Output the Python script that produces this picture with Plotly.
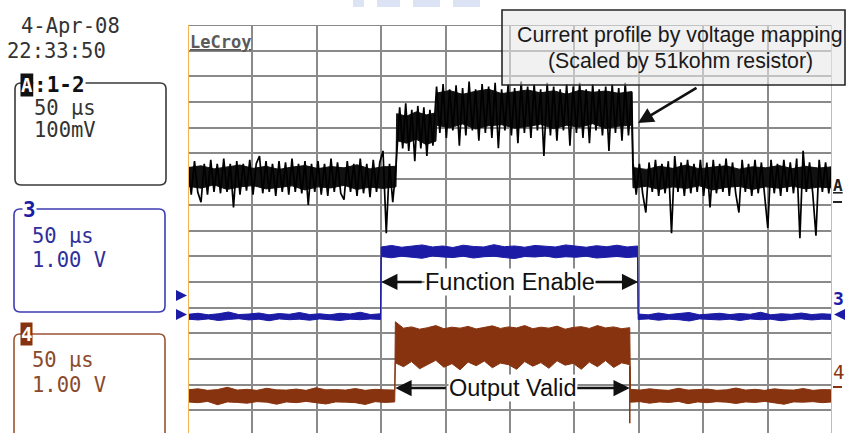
import numpy as np
import plotly.graph_objects as go

W, H = 846, 433

# ---------------- data (screen divisions; time in microseconds, 50 us/div) ----------------
# Channel A (1-2) current profile, black: sampled trace
a_segments = [(0, 161.5), (162, 192.5), (193, 344.5), (345.5, 500)]
a_low_before = [10.6, 9.4, 10.7, 9.5, 9.1, 10.6, 9.4, 10.75, 9.5, 10.6,
                9.45, 10.8, 9.5, 10.6, 8.9, 10.7, 9.4, 10.6, 9.55, 10.75,
                9.4, 10.6, 10.9, 9.45, 10.7, 9.5, 10.6, 9.35, 10.7, 9.5,
                10.65, 9.4, 10.8, 9.5, 10.6, 9.45, 10.7, 9.0, 10.6, 9.5,
                10.7, 9.4, 10.6, 9.35, 10.8, 9.5, 10.65, 9.45, 9.2, 10.7,
                9.5, 10.6, 9.35, 10.8, 9.45, 10.6, 9.3, 10.75, 9.5, 10.65,
                11.1, 7.9, 10.6, 9.1, 10.5]
a_step1 = [11.0, 12.8, 11.2, 12.95, 11.1, 12.7, 10.7, 12.85, 11.2, 12.8, 10.9, 12.7, 11.3, 12.9]
a_step2 = [13.6, 11.8, 13.7, 11.6, 13.5, 11.9, 13.65, 11.3, 13.55, 11.7,
           13.8, 11.9, 13.5, 11.5, 13.7, 11.8, 13.6, 11.6, 13.75, 11.2,
           13.5, 11.9, 13.7, 11.7, 13.55, 11.4, 13.8, 11.8, 13.6, 11.6,
           13.7, 11.9, 13.5, 10.9, 13.75, 11.7, 13.6, 11.5, 13.5, 11.9,
           13.7, 11.3, 13.6, 11.8, 13.75, 11.6, 13.5, 11.4, 13.7, 11.9,
           13.5, 11.7, 13.6, 11.1, 13.7, 11.8, 13.55, 11.5, 13.75, 11.7, 13.4]
a_low_after = [10.65, 9.4, 10.6, 9.45, 8.7, 10.65, 9.5, 10.75, 9.35, 10.6,
               9.45, 10.7, 7.9, 10.9, 9.5, 10.65, 9.35, 10.75, 9.45, 10.6,
               9.5, 10.75, 9.35, 10.65, 8.9, 10.75, 9.45, 10.6, 9.5, 10.8,
               9.35, 10.65, 9.45, 8.7, 10.75, 9.5, 10.6, 9.35, 10.75, 9.45,
               10.65, 9.5, 8.1, 10.75, 9.45, 10.6, 9.35, 10.75, 9.5, 10.65,
               9.45, 10.8, 7.7, 11.1, 9.5, 10.65, 9.45, 7.8, 10.75, 9.5,
               10.65, 9.45, 10.6]
# Channel A dense body (persistence envelope): top / bottom edges
a_body_top = [
    [10.45, 10.52, 10.4, 10.48, 10.55, 10.42, 10.5, 10.38, 10.47, 10.53, 10.41, 10.49, 10.44, 10.56, 10.4, 10.48, 10.5],
    [12.55, 12.45, 12.62, 12.5, 12.58],
    [13.35, 13.45, 13.3, 13.42, 13.5, 13.33, 13.4, 13.47, 13.36, 13.44, 13.3, 13.46, 13.38, 13.43, 13.34, 13.41],
    [10.45, 10.38, 10.5, 10.42, 10.55, 10.4, 10.47, 10.52, 10.39, 10.48, 10.44, 10.53, 10.41, 10.5, 10.43, 10.48],
]
a_body_bot = [
    [9.72, 9.65, 9.78, 9.6, 9.7, 9.75, 9.62, 9.68, 9.74, 9.58, 9.7, 9.66, 9.76, 9.6, 9.69, 9.64, 9.7],
    [11.5, 11.4, 11.55, 11.35, 11.48],
    [12.1, 12.0, 12.15, 11.95, 12.08, 12.12, 11.98, 12.05, 12.14, 11.96, 12.1, 12.02, 12.16, 11.97, 12.06, 12.1],
    [9.66, 9.72, 9.6, 9.7, 9.64, 9.74, 9.58, 9.68, 9.72, 9.6, 9.7, 9.65, 9.73, 9.62, 9.69, 9.66],
]

# Channel 3 Function Enable, blue (band: top / bottom edges)
c3_segments = [(0, 149.5), (150, 349), (349.5, 500)]
c3_top = [
    [4.74, 4.78, 4.72, 4.76, 4.83, 4.73, 4.75, 4.79, 4.72, 4.77, 4.74, 4.81, 4.73, 4.76, 4.72, 4.78, 4.75, 4.82, 4.73, 4.76],
    [7.36, 7.42, 7.35, 7.39, 7.44, 7.36, 7.40, 7.34, 7.43, 7.38, 7.36, 7.45, 7.37, 7.40, 7.35, 7.42, 7.38, 7.36, 7.44, 7.39,
     7.35, 7.41, 7.37, 7.43, 7.36, 7.40],
    [4.75, 4.72, 4.79, 4.73, 4.76, 4.81, 4.72, 4.75, 4.78, 4.73, 4.77, 4.74, 4.82, 4.72, 4.76, 4.74, 4.79, 4.73, 4.76, 4.74],
]
c3_bot = [
    [4.55, 4.52, 4.56, 4.50, 4.54, 4.57, 4.52, 4.55, 4.49, 4.56, 4.53, 4.55, 4.51, 4.56, 4.54, 4.50, 4.55, 4.53, 4.56, 4.54],
    [6.99, 6.94, 7.00, 6.96, 6.92, 7.01, 6.97, 6.95, 7.00, 6.93, 6.98, 7.00, 6.95, 6.91, 6.99, 6.97, 7.01, 6.94, 6.98, 6.96,
     7.00, 6.93, 6.97, 6.99, 6.95, 6.98],
    [4.54, 4.56, 4.51, 4.55, 4.53, 4.48, 4.56, 4.54, 4.52, 4.55, 4.50, 4.56, 4.53, 4.55, 4.49, 4.54, 4.56, 4.52, 4.55, 4.54],
]

# Channel 4 Output Valid, brown (band: top / bottom edges)
c4_segments = [(0, 160.5), (161, 343), (343.5, 500)]
c4_top = [
    [1.80, 1.84, 1.78, 1.81, 1.90, 1.79, 1.82, 1.78, 1.86, 1.80, 1.79, 1.83, 1.78, 1.88, 1.80, 1.81, 1.79, 1.85, 1.78, 1.82, 1.80, 1.79],
    [4.45, 4.20, 4.25, 4.16, 4.22, 4.30, 4.18, 4.24, 4.20, 4.27, 4.17, 4.23, 4.29, 4.19, 4.25, 4.21, 4.30, 4.18, 4.24, 4.20,
     4.28, 4.16, 4.23, 4.26, 4.19, 4.30, 4.21, 4.25, 4.18, 4.22],
    [1.82, 1.79, 1.84, 1.80, 1.78, 1.86, 1.79, 1.81, 1.83, 1.78, 1.80, 1.87, 1.79, 1.82, 1.78, 1.84, 1.80, 1.79, 1.85, 1.78, 1.81, 1.80],
]
c4_bot = [
    [1.33, 1.30, 1.35, 1.22, 1.33, 1.31, 1.28, 1.34, 1.32, 1.24, 1.33, 1.30, 1.35, 1.31, 1.25, 1.33, 1.32, 1.30, 1.23, 1.34, 1.31, 1.33],
    [2.85, 2.70, 2.90, 2.62, 2.80, 2.95, 2.68, 2.82, 2.58, 2.88, 2.74, 2.92, 2.66, 2.84, 2.78, 2.60, 2.90, 2.72, 2.86, 2.64,
     2.93, 2.76, 2.83, 2.60, 2.88, 2.70, 2.94, 2.67, 2.85, 2.78],
    [1.32, 1.34, 1.28, 1.33, 1.31, 1.35, 1.26, 1.33, 1.30, 1.34, 1.32, 1.27, 1.33, 1.31, 1.35, 1.30, 1.24, 1.33, 1.32, 1.34, 1.30, 1.33],
]
c4_edge_t = [343, 343]
c4_edge_v = [2.7, 0.5]

# annotation positions (time us, divisions)
enable_edges = [150, 349.5]
valid_edges = [161, 343]
enable_level = 6.0
valid_level = 1.87

BLACK = "#000000"
BLUE = "#1b1ba6"
BROWN = "#87330f"
GRID = "#8a8a8a"
ORANGE = "#f3b453"


def build(segs, vals_list):
    t, y = [], []
    for (s, e), v in zip(segs, vals_list):
        t += list(np.linspace(s, e, len(v)))
        y += list(v)
    return t, y


def band(segs, tops, bots):
    tt, yt = build(segs, tops)
    tb, yb = build(segs, bots)
    return tt + tb[::-1] + [tt[0]], yt + yb[::-1] + [yt[0]]


fig = go.Figure()

ta, ya = build(a_segments, [a_low_before, a_step1, a_step2, a_low_after])
tab, yab = band(a_segments, a_body_top, a_body_bot)
t3, y3 = band(c3_segments, c3_top, c3_bot)
t4, y4 = band(c4_segments, c4_top, c4_bot)

fig.add_trace(go.Scatter(x=t3, y=y3, mode="lines", fill="toself", fillcolor=BLUE,
                         line=dict(color=BLUE, width=1), hoverinfo="skip"))
fig.add_trace(go.Scatter(x=t4, y=y4, mode="lines", fill="toself", fillcolor=BROWN,
                         line=dict(color=BROWN, width=1), hoverinfo="skip"))
fig.add_trace(go.Scatter(x=c4_edge_t, y=c4_edge_v, mode="lines",
                         line=dict(color=BROWN, width=1.5), hoverinfo="skip"))
fig.add_trace(go.Scatter(x=tab, y=yab, mode="lines", fill="toself", fillcolor="#111111",
                         line=dict(color="#111111", width=1), hoverinfo="skip"))
fig.add_trace(go.Scatter(x=ta, y=ya, mode="lines", line=dict(color=BLACK, width=1.7), hoverinfo="skip"))


def X(p):
    return p / W


def Y(p):
    return 1 - p / H


def rrect(x0, y0, x1, y1, r):
    return (f"M{X(x0 + r)},{Y(y0)} L{X(x1 - r)},{Y(y0)} Q{X(x1)},{Y(y0)} {X(x1)},{Y(y0 + r)} "
            f"L{X(x1)},{Y(y1 - r)} Q{X(x1)},{Y(y1)} {X(x1 - r)},{Y(y1)} L{X(x0 + r)},{Y(y1)} "
            f"Q{X(x0)},{Y(y1)} {X(x0)},{Y(y1 - r)} L{X(x0)},{Y(y0 + r)} Q{X(x0)},{Y(y0)} {X(x0 + r)},{Y(y0)} Z")


def tri(pts):
    return "M" + " L".join(f"{X(a)},{Y(b)}" for a, b in pts) + " Z"


shapes = []
# left panel boxes
shapes.append(dict(type="path", xref="paper", yref="paper", path=rrect(15, 83, 166, 185, 6),
                   line=dict(color="#3a3a3a", width=1.6)))
shapes.append(dict(type="path", xref="paper", yref="paper", path=rrect(14, 209, 165, 312, 6),
                   line=dict(color="#3c3cb4", width=1.6)))
shapes.append(dict(type="path", xref="paper", yref="paper", path=rrect(14, 334, 165, 450, 6),
                   line=dict(color="#9a5434", width=1.6)))
# plot frame: orange side borders and top line
for xx in (0, 500):
    shapes.append(dict(type="line", xref="x", yref="paper", x0=xx, x1=xx, y0=0, y1=Y(25),
                       line=dict(color=ORANGE, width=2), layer="above"))
shapes.append(dict(type="line", xref="x", yref="y", x0=0, x1=500, y0=16, y1=16,
                   line=dict(color=GRID, width=2), layer="below"))
# channel markers
shapes.append(dict(type="path", xref="paper", yref="paper", path=tri([(176, 290), (187, 295.5), (176, 301)]),
                   fillcolor=BLUE, line=dict(width=0)))
shapes.append(dict(type="path", xref="paper", yref="paper", path=tri([(176, 309), (187, 314.5), (176, 320)]),
                   fillcolor=BLUE, line=dict(width=0)))
shapes.append(dict(type="path", xref="paper", yref="paper", path=tri([(845, 309), (834, 314.5), (845, 320)]),
                   fillcolor=BLUE, line=dict(width=0)))
shapes.append(dict(type="line", xref="paper", yref="paper", x0=X(833), x1=X(842), y0=Y(202), y1=Y(202),
                   line=dict(color="#222222", width=2)))
shapes.append(dict(type="line", xref="paper", yref="paper", x0=X(833), x1=X(842), y0=Y(387), y1=Y(387),
                   line=dict(color=BROWN, width=2)))
# callout box
shapes.append(dict(type="rect", xref="paper", yref="paper", x0=X(502), x1=X(845), y0=Y(85), y1=Y(10),
                   fillcolor="rgba(232,232,232,0.6)", line=dict(color="#262626", width=1.6), layer="above"))
# faint watermark blobs at top
for a, b in [(353, 364), (377, 400), (413, 440), (453, 480)]:
    shapes.append(dict(type="rect", xref="paper", yref="paper", x0=X(a), x1=X(b), y0=Y(7), y1=Y(0),
                       fillcolor="#dce3f5", line=dict(width=0)))

MONO = "DejaVu Sans Mono"
SANS = "Liberation Sans, Arial"
ann = []


def txt(s, x, y, size, color, family=MONO, xanchor="left", bg=None, bold=False):
    d = dict(text=(f"<b>{s}</b>" if bold else s), x=X(x), y=Y(y), xref="paper", yref="paper",
             xanchor=xanchor, yanchor="middle", showarrow=False,
             font=dict(family=family, size=size, color=color), borderpad=0)
    if bg:
        d["bgcolor"] = bg
    ann.append(d)


txt("4-Apr-08", 20, 26, 20.5, "#333333")
txt("22:33:50", 6, 51, 20.5, "#333333")
txt("A", 20, 85, 19, "#ffffff", bg="#111111", bold=True)
txt(":1-2", 33, 85, 21, "#111111", bg="#ffffff", bold=True)
txt("50 µs", 33, 108, 20.5, "#333333")
txt("100mV", 33, 130, 20.5, "#333333")
txt("3", 22, 210, 21, BLUE, bg="#ffffff", bold=True)
txt("50 µs", 31, 236, 20.5, "#2e2e9c")
txt("1.00 V", 31, 260, 20.5, "#2e2e9c")
txt("4", 20, 334, 19, "#ffffff", bg=BROWN, bold=True)
txt("50 µs", 31, 360, 20.5, "#8a4a2c")
txt("1.00 V", 31, 385, 20.5, "#8a4a2c")
txt("<u>LeCroy</u>", 189, 42, 17, "#5a5a5a", bold=True)
txt("<u>A</u>", 838, 186, 16, "#222222", xanchor="center", bold=True)
txt("3", 838, 298, 18, BLUE, xanchor="center", bold=True)
txt("4", 838, 372, 19, BROWN, xanchor="center")
txt("Current profile by voltage mapping", 680, 35, 21.3, "#1a1a1a", family=SANS, xanchor="center")
txt("(Scaled by 51kohm resistor)", 680, 61, 21.3, "#1a1a1a", family=SANS, xanchor="center")

# callout arrow
ann.append(dict(text="", x=X(638), y=Y(123), xref="paper", yref="paper", showarrow=True,
                ax=60, ay=-36, arrowhead=2, arrowsize=1.2, arrowwidth=2.6, arrowcolor="#111111"))

# Function Enable / Output Valid labels with arrows
ann.append(dict(text="Function Enable", x=(enable_edges[0] + enable_edges[1]) / 2 + 0.5, y=enable_level,
                xref="x", yref="y", showarrow=False, bgcolor="#ffffff", borderpad=0,
                font=dict(family=SANS, size=23.5, color="#111111")))
ann.append(dict(text="Output Valid", x=(valid_edges[0] + valid_edges[1]) / 2 + 0.5, y=valid_level,
                xref="x", yref="y", showarrow=False, bgcolor="#ffffff", borderpad=0,
                font=dict(family=SANS, size=23.5, color="#111111")))
for xe, axp, lvl in [(enable_edges[0], 42, enable_level), (enable_edges[1], -44, enable_level),
                     (valid_edges[0], 52, valid_level), (valid_edges[1], -54, valid_level)]:
    ann.append(dict(text="", x=xe, y=lvl, xref="x", yref="y", showarrow=True, ax=axp, ay=0,
                    arrowhead=2, arrowsize=1.25, arrowwidth=2.6, arrowcolor="#111111"))

fig.update_layout(
    width=W, height=H, margin=dict(l=0, r=0, t=0, b=0),
    paper_bgcolor="#ffffff", plot_bgcolor="#ffffff", showlegend=False,
    xaxis=dict(domain=[188 / W, 832 / W], range=[0, 500], tick0=0, dtick=50, showticklabels=False,
               showgrid=True, gridcolor=GRID, gridwidth=2, zeroline=False, showline=False, ticks=""),
    yaxis=dict(domain=[0, 408 / H], range=[0.12, 16], tick0=0, dtick=1, showticklabels=False,
               showgrid=True, gridcolor=GRID, gridwidth=2, zeroline=False, showline=False, ticks=""),
    shapes=shapes, annotations=ann,
)

fig.write_html("out.html", config={"displayModeBar": False},
               post_script="document.body.style.margin='0';document.body.style.overflow='hidden';")
